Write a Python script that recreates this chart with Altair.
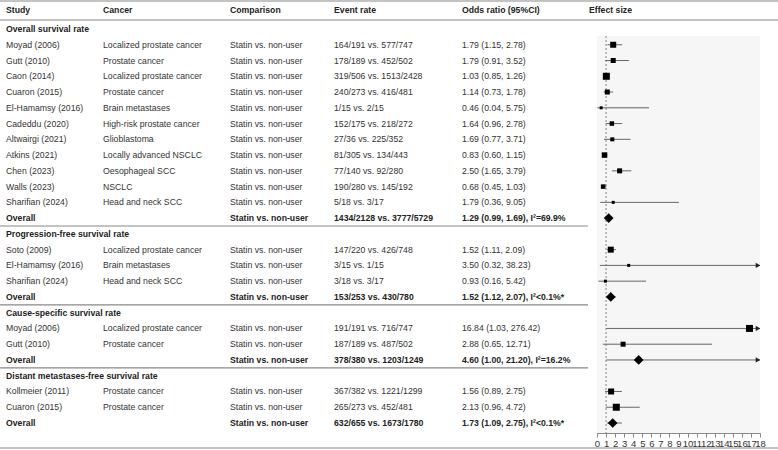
import altair as alt
import pandas as pd

# ---------------- data ----------------
groups = ["Overall survival rate", "Progression-free survival rate",
          "Cause-specific survival rate", "Distant metastases-free survival rate"]
group_sizes = [11, 3, 2, 2]

studies = ["Moyad (2006)", "Gutt (2010)", "Caon (2014)", "Cuaron (2015)", "El-Hamamsy (2016)",
           "Cadeddu (2020)", "Altwairgi (2021)", "Atkins (2021)", "Chen (2023)", "Walls (2023)",
           "Sharifian (2024)",
           "Soto (2009)", "El-Hamamsy (2016)", "Sharifian (2024)",
           "Moyad (2006)", "Gutt (2010)",
           "Kollmeier (2011)", "Cuaron (2015)"]
cancers = ["Localized prostate cancer", "Prostate cancer", "Localized prostate cancer", "Prostate cancer",
           "Brain metastases", "High-risk prostate cancer", "Glioblastoma", "Locally advanced NSCLC",
           "Oesophageal SCC", "NSCLC", "Head and neck SCC",
           "Localized prostate cancer", "Brain metastases", "Head and neck SCC",
           "Localized prostate cancer", "Prostate cancer",
           "Prostate cancer", "Prostate cancer"]
comparison = "Statin vs. non-user"
events = ["164/191 vs. 577/747", "178/189 vs. 452/502", "319/506 vs. 1513/2428", "240/273 vs. 416/481",
          "1/15 vs. 2/15", "152/175 vs. 218/272", "27/36 vs. 225/352", "81/305 vs. 134/443",
          "77/140 vs. 92/280", "190/280 vs. 145/192", "5/18 vs. 3/17",
          "147/220 vs. 426/748", "3/15 vs. 1/15", "3/18 vs. 3/17",
          "191/191 vs. 716/747", "187/189 vs. 487/502",
          "367/382 vs. 1221/1299", "265/273 vs. 452/481"]
odds = [1.79, 1.79, 1.03, 1.14, 0.46, 1.64, 1.69, 0.83, 2.50, 0.68, 1.79,
        1.52, 3.50, 0.93,
        16.84, 2.88,
        1.56, 2.13]
lower = [1.15, 0.91, 0.85, 0.73, 0.04, 0.96, 0.77, 0.60, 1.65, 0.45, 0.36,
         1.11, 0.32, 0.16,
         1.03, 0.65,
         0.89, 0.96]
upper = [2.78, 3.52, 1.26, 1.78, 5.75, 2.78, 3.71, 1.15, 3.79, 1.03, 9.05,
         2.09, 38.23, 5.42,
         276.42, 12.71,
         2.75, 4.72]
box_side = [6, 5, 7, 5, 3, 4.5, 4, 5.5, 5, 4.5, 3,
            6, 3, 3,
            7, 5,
            6, 7]

overall_events = ["1434/2128 vs. 3777/5729", "153/253 vs. 430/780",
                  "378/380 vs. 1203/1249", "632/655 vs. 1673/1780"]
overall_odds = [1.29, 1.52, 4.60, 1.73]
overall_lower = [0.99, 1.12, 1.00, 1.09]
overall_upper = [1.69, 2.07, 21.20, 2.75]
overall_het = ["I\u00b2=69.9%", "I\u00b2<0.1%*", "I\u00b2=16.2%", "I\u00b2<0.1%*"]

headers = ["Study", "Cancer", "Comparison", "Event rate", "Odds ratio (95%CI)", "Effect size"]
x_ticks = list(range(0, 19))

# ---------------- build table ----------------
rows = []
r = 0
k = 0
for g, name in enumerate(groups):
    rows.append(dict(row=r, kind="group", bold=True, study=name, cancer="", comparison="",
                     event="", ortext="", orv=None, lo=None, hi=None, box=None))
    r += 1
    for _ in range(group_sizes[g]):
        rows.append(dict(row=r, kind="study", bold=False, study=studies[k], cancer=cancers[k],
                         comparison=comparison, event=events[k],
                         ortext=f"{odds[k]:.2f} ({lower[k]:.2f}, {upper[k]:.2f})",
                         orv=odds[k], lo=lower[k], hi=upper[k], box=box_side[k]))
        r += 1
        k += 1
    rows.append(dict(row=r, kind="overall", bold=True, study="Overall", cancer="",
                     comparison=comparison, event=overall_events[g],
                     ortext=f"{overall_odds[g]:.2f} ({overall_lower[g]:.2f}, {overall_upper[g]:.2f}), {overall_het[g]}",
                     orv=overall_odds[g], lo=overall_lower[g], hi=overall_upper[g], box=None))
    r += 1
df = pd.DataFrame(rows)
n_rows = r

seps = pd.DataFrame({"y": [row["row"] + 0.5 for row in rows
                           if row["kind"] == "overall" and row["row"] != n_rows - 1]})

FONT = "Liberation Sans"
FS = 8.7
x_lo, x_hi = x_ticks[0], x_ticks[-1]

xscale = alt.Scale(domain=[x_lo, x_hi], range=[597, 760], nice=False, zero=False)
xaxis = alt.Axis(values=x_ticks, title=None, grid=False, labelOverlap=False, labelFlush=False,
                 domainColor="#888", tickColor="#888", labelColor="#333", labelFont=FONT,
                 labelFontSize=9.5, tickSize=4, labelPadding=1, format="d")
yscale = alt.Scale(domain=[0, n_rows - 1], range=[29, 423], nice=False, zero=False)
Y = alt.Y("row:Q", scale=yscale, axis=None)

layers = []

# plot background
frame = pd.DataFrame({"x0": [x_lo], "x1": [x_hi], "ref": [1]})
layers.append(alt.Chart(frame).mark_rect(color="#f6f6f6").encode(
    x=alt.X("x0:Q", scale=xscale, axis=xaxis), x2="x1:Q",
    y=alt.value(36), y2=alt.value(433)))
layers.append(alt.Chart(frame).mark_rule(color="#666", strokeDash=[2, 2], strokeWidth=0.8).encode(
    x=alt.X("ref:Q", scale=xscale, axis=xaxis), y=alt.value(36), y2=alt.value(433)))

# table lines
one = pd.DataFrame({"a": [0]})
for yy in [1, 20, 448]:
    layers.append(alt.Chart(one).mark_rule(color="#888", strokeWidth=1.2).encode(
        x=alt.value(0), x2=alt.value(778), y=alt.value(yy)))
layers.append(alt.Chart(seps).mark_rule(color="#888", strokeWidth=1.2).encode(
    x=alt.value(0), x2=alt.value(588), y=alt.Y("y:Q", scale=yscale, axis=None)))

# headers
col_x = [6, 103, 230, 334, 462, 589]
for h, px in zip(headers, col_x):
    layers.append(alt.Chart(pd.DataFrame({"t": [h]})).mark_text(
        align="left", baseline="middle", font=FONT, fontSize=FS, fontWeight="bold", color="#222"
    ).encode(text="t:N", x=alt.value(px), y=alt.value(10)))

# table text
cols = ["study", "cancer", "comparison", "event", "ortext"]
base = alt.Chart(df)
for c, px in zip(cols, col_x[:5]):
    layers.append(base.transform_filter(f"!datum.bold && datum.{c} != ''").mark_text(
        align="left", baseline="middle", font=FONT, fontSize=FS, color="#333"
    ).encode(text=f"{c}:N", x=alt.value(px), y=Y))
    layers.append(base.transform_filter(f"datum.bold && datum.{c} != ''").mark_text(
        align="left", baseline="middle", font=FONT, fontSize=FS, fontWeight="bold", color="#222"
    ).encode(text=f"{c}:N", x=alt.value(px), y=Y))

# forest marks
forest = base.transform_filter("datum.kind != 'group'").transform_calculate(
    hic=f"min(datum.hi, {x_hi})", xmax=f"{x_hi}")
layers.append(forest.mark_rule(color="#666", strokeWidth=1).encode(
    x=alt.X("lo:Q", scale=xscale, axis=xaxis), x2="hic:Q", y=Y))
layers.append(forest.transform_filter(f"datum.hi > {x_hi}").mark_point(
    shape="triangle-right", filled=True, size=28, color="#222", opacity=1, xOffset=-2).encode(
    x=alt.X("xmax:Q", scale=xscale, axis=xaxis), y=Y))
layers.append(forest.transform_filter("datum.kind == 'study'").transform_calculate(
    area="datum.box * datum.box").mark_square(color="black", opacity=1).encode(
    x=alt.X("orv:Q", scale=xscale, axis=xaxis), y=Y, size=alt.Size("area:Q", scale=None, legend=None)))
layers.append(forest.transform_filter("datum.kind == 'overall'").mark_point(
    shape="diamond", filled=True, size=95, color="black", opacity=1).encode(
    x=alt.X("orv:Q", scale=xscale, axis=xaxis), y=Y))

chart = alt.layer(*layers).properties(
    width=778, height=433,
    autosize=alt.AutoSizeParams(type="none"),
    padding={"left": 0, "top": 0, "right": 0, "bottom": 17},
    background="white",
).configure_view(stroke=None)

chart.save("out.html", embed_options={"renderer": "svg", "actions": False})
